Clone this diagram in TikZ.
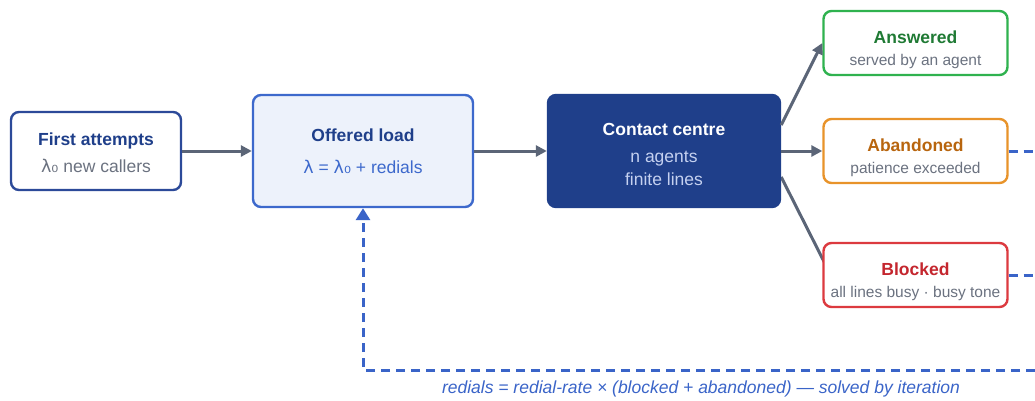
\documentclass[tikz,border=0pt]{standalone}
\usepackage{fontspec}
\setmainfont{Liberation Sans}
\newfontfamily\grk{DejaVu Sans}
\usetikzlibrary{arrows.meta,backgrounds}

\definecolor{navy}{HTML}{1F3F8A}
\definecolor{navyline}{HTML}{2C4A99}
\definecolor{loadblue}{HTML}{3D69CC}
\definecolor{loadfill}{HTML}{EDF2FB}
\definecolor{softtxt}{HTML}{6B7280}
\definecolor{palenote}{HTML}{C5D1F0}
\definecolor{okgreen}{HTML}{2FB24F}
\definecolor{okgreentxt}{HTML}{1F7A34}
\definecolor{abandon}{HTML}{E8932A}
\definecolor{abandontxt}{HTML}{B8650E}
\definecolor{blockred}{HTML}{DC3A3F}
\definecolor{blockredtxt}{HTML}{C4262E}
\definecolor{flowgrey}{HTML}{5B6577}
\definecolor{loopblue}{HTML}{3A64C8}

% title line; the strut pushes the text block down inside its box
\newcommand{\boxtitle}[3][0pt]{\rule{0pt}{#1}{\color{#2}\fontsize{17.5}{21}\selectfont\bfseries #3}}
\newcommand{\boxnote}[2]{{\color{#1}#2}}
\newcommand{\lamzero}{{\grk λ₀}}

\tikzset{
  stage/.style={draw, rounded corners=8pt, line width=2.4pt, fill=white, align=center,
    inner sep=0pt, font=\fontsize{17.5}{21}\selectfont},
  outcome/.style={stage, minimum width=184pt, minimum height=64pt, font=\fontsize{15.5}{19}\selectfont},
  flow/.style={draw=flowgrey, line width=3pt, -{Triangle[length=11pt,width=11pt]}},
  feedback/.style={draw=loopblue, line width=3pt, dash pattern=on 9pt off 6pt}
}

\begin{document}
\begin{tikzpicture}[x=1pt,y=-1pt]
  \useasboundingbox (0,0) rectangle (1035,400);
  \clip (0,0) rectangle (1035,400);

  % main chain
  \node[stage, draw=navyline, minimum width=170pt, minimum height=78pt] (first) at (96,151)
    {\boxtitle[17pt]{navy}{First attempts}\\[6pt]\boxnote{softtxt}{\lamzero\ new callers}};
  \node[stage, draw=loadblue, fill=loadfill, minimum width=220pt, minimum height=112pt] (offered) at (363,151)
    {\boxtitle{navy}{Offered load}\\[10.5pt]\boxnote{loadblue}{{\grk λ} = \lamzero\ + redials}};
  \node[stage, draw=navy, fill=navy, minimum width=232pt, minimum height=112pt] (centre) at (664,151)
    {\boxtitle[19.5pt]{white}{Contact centre}\\[6.5pt]\boxnote{palenote}{n agents}\\[2pt]\boxnote{palenote}{finite lines}};

  % outcomes
  \node[outcome, draw=okgreen] (answered) at (915.5,43)
    {\boxtitle[25.5pt]{okgreentxt}{Answered}\\[3pt]\boxnote{softtxt}{served by an agent}};
  \node[outcome, draw=abandon] (abandoned) at (915.5,151)
    {\boxtitle[25.5pt]{abandontxt}{Abandoned}\\[3pt]\boxnote{softtxt}{patience exceeded}};
  \node[outcome, draw=blockred] (blocked) at (915.5,275)
    {\boxtitle[25.5pt]{blockredtxt}{Blocked}\\[3pt]\boxnote{softtxt}{all lines busy · busy tone}};

  \draw[flow] (first) -- (offered);
  \draw[flow] (offered) -- (centre);
  \draw[flow] ([yshift=26pt]centre.east) -- (answered.west);
  \draw[flow] (centre) -- (abandoned);
  \begin{pgfonlayer}{background}
    \draw[flow] ([yshift=-26pt]centre.east) -- ([xshift=12pt,yshift=-7pt]blocked.west);
  \end{pgfonlayer}

  % redial loop back into the offered load
  \coordinate (loopR) at (1050,370);
  \draw[feedback] (abandoned.east) -- (abandoned.east -| loopR) -- (loopR);
  \draw[feedback] (blocked.east) -- (blocked.east -| loopR);
  \draw[feedback, -{Triangle[length=12pt,width=14pt]}] (loopR) -- (offered.south |- loopR) -- (offered.south);
  \node[text=loopblue, font=\fontsize{17.5}{21}\selectfont\itshape] (loopnote) at (701,389)
    {redials = redial-rate × (blocked + abandoned) — solved by iteration};
\end{tikzpicture}
\end{document}
